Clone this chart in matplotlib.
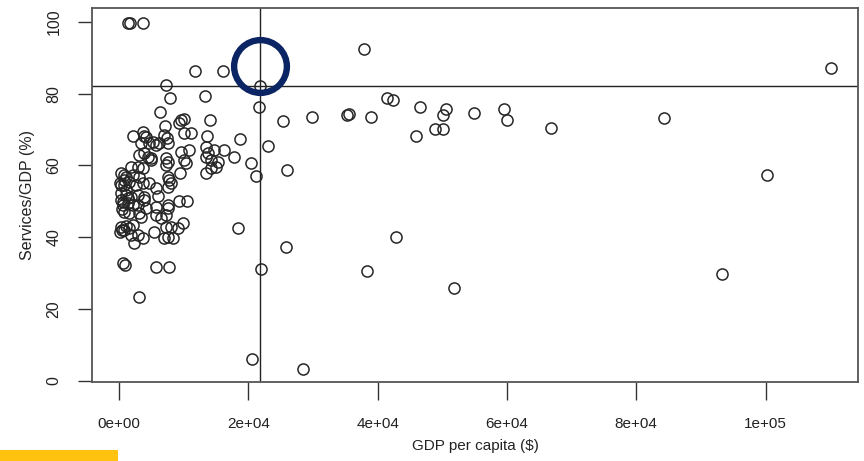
import numpy as np
import matplotlib.pyplot as plt
import matplotlib.transforms as mtransforms
from matplotlib.patches import Rectangle

plt.rcParams['font.family'] = ['Liberation Sans', 'DejaVu Sans']

# GDP per capita ($) and services share of GDP (%)
gdp = [1400, 1700, 3700, 11700, 16000, 21800, 7300, 7900, 13300, 21600,
       25300, 6300, 7100, 9600, 10000, 9300, 14000, 2200, 3700, 3900,
       6900, 7400, 10000, 11100, 13600, 18700, 23100, 25900, 21100, 20400,
       4200, 5200, 5700, 7600, 9600, 10800, 13400, 13700, 14700, 16200,
       17700, 3100, 3900, 4500, 4900, 7300, 7600, 7300, 10000, 10300,
       13400, 14200, 15300, 15000, 9400, 13400, 14200, 7600, 7700, 8000,
       3400, 4600, 6200, 4900, 1900, 2900, 3700, 300, 1100, 2200,
       3100, 200, 800, 1500, 2600, 3700, 4600, 5700, 7600, 300,
       1100, 1900, 2900, 3900, 600, 1400, 2200, 4200, 5700, 3900,
       6000, 7600, 9300, 10500, 2900, 800, 1500, 3100, 3400, 5700,
       6500, 7300, 7600, 300, 800, 1500, 2200, 1900, 2900, 3700,
       2300, 5400, 7300, 8000, 6900, 7600, 8300, 9900, 9100, 18400,
       600, 900, 5700, 7700, 3100, 25800, 21900, 20500, 42900, 38300,
       51800, 28400, 37900, 41500, 42400, 46600, 50600, 50100, 54900, 59600,
       60000, 66800, 48900, 50100, 46000, 38900, 35300, 35500, 29800, 110100,
       84300, 100300, 93200, 600, 300, 500, 150, 1100, 300, 800,
       1000, 400, 1300, 700]
services = [99.7, 99.7, 99.7, 86.4, 86.4, 82.2, 82.5, 78.8, 79.4, 76.3,
            72.4, 74.9, 71.0, 72.7, 73.0, 71.9, 72.7, 68.2, 69.4, 68.2,
            68.5, 67.7, 69.1, 69.1, 68.2, 67.4, 65.5, 58.8, 57.1, 60.7,
            68.0, 66.6, 65.7, 66.3, 63.8, 64.3, 65.2, 63.5, 64.3, 64.3,
            62.4, 63.0, 63.5, 62.4, 61.6, 62.1, 61.0, 60.2, 61.6, 60.7,
            62.4, 61.6, 61.0, 59.6, 57.9, 57.9, 59.3, 56.8, 56.0, 55.2,
            66.3, 66.3, 66.3, 62.1, 59.6, 59.6, 59.3, 57.9, 56.8, 57.4,
            56.8, 55.2, 54.6, 55.4, 54.6, 55.2, 55.2, 53.8, 54.0, 52.4,
            51.8, 51.3, 51.8, 51.3, 49.9, 49.6, 49.0, 48.2, 48.5, 50.4,
            51.5, 49.0, 50.1, 50.1, 49.0, 47.1, 46.8, 46.8, 45.7, 46.2,
            45.4, 46.2, 48.2, 42.9, 42.1, 42.6, 43.5, 40.7, 40.7, 39.8,
            38.4, 41.5, 42.9, 42.9, 39.8, 40.1, 39.8, 44.0, 42.6, 42.6,
            32.9, 32.3, 31.8, 31.8, 23.4, 37.3, 31.2, 6.1, 40.1, 30.6,
            25.9, 3.3, 92.5, 78.8, 78.3, 76.3, 75.8, 74.1, 74.6, 75.8,
            72.7, 70.5, 70.2, 70.2, 68.2, 73.5, 74.1, 74.4, 73.5, 87.2,
            73.3, 57.4, 29.8, 49.0, 54.6, 42.1, 41.5, 53.2, 50.4, 56.0,
            43.2, 47.8, 51.0, 57.2]

x_ticks = [0, 20000, 40000, 60000, 80000, 100000]
x_tick_labels = ['0e+00', '2e+04', '4e+04', '6e+04', '8e+04', '1e+05']
y_ticks = [0, 20, 40, 60, 80, 100]

# reference lines through the highlighted country
vline_x = 21800
hline_y = 82.2

fig = plt.figure(figsize=(8.64, 4.61), dpi=100)
ax = fig.add_axes([0.1065, 0.1714, 0.8865, 0.8112])

ax.plot(gdp, services, linestyle='none', marker='o', markersize=8.0,
        markerfacecolor='none', markeredgecolor='#262626', markeredgewidth=1.1)

ax.axvline(vline_x, color='#222222', lw=1.0)
ax.axhline(hline_y, color='#222222', lw=1.0)

# navy highlight ring, sitting just above the crossing point
offset = mtransforms.ScaledTranslation(0, 20 / 100, fig.dpi_scale_trans)
ax.plot([vline_x], [hline_y], marker='o', markersize=38,
        markerfacecolor='none', markeredgecolor='#0b2463', markeredgewidth=4.6,
        transform=ax.transData + offset, clip_on=False, zorder=5)

ax.set_xlim(-4200, 114300)
ax.set_ylim(-0.4, 103.9)

ax.set_xticks(x_ticks)
ax.set_xticklabels(x_tick_labels)
ax.set_yticks(y_ticks)
ax.set_yticklabels([str(v) for v in y_ticks], rotation=90, va='center')

ax.tick_params(axis='x', length=13, width=1.0, color='#333333', pad=12,
               labelsize=11, labelcolor='#222222')
ax.tick_params(axis='y', length=10, width=1.0, color='#333333', pad=12,
               labelsize=11.5, labelcolor='#222222')

for side in ax.spines.values():
    side.set_color('#555555')
    side.set_linewidth(1.3)

ax.set_xlabel('GDP per capita ($)', fontsize=11, color='#222222', labelpad=6)
ax.set_ylabel('Services/GDP (%)', fontsize=11.5, color='#222222', labelpad=8)

# yellow accent bar in the bottom-left corner
fig.patches.append(Rectangle((0, 0), 0.1366, 0.024, transform=fig.transFigure,
                             facecolor='#ffc20e', edgecolor='none'))

fig.savefig('out.png', dpi=100)
